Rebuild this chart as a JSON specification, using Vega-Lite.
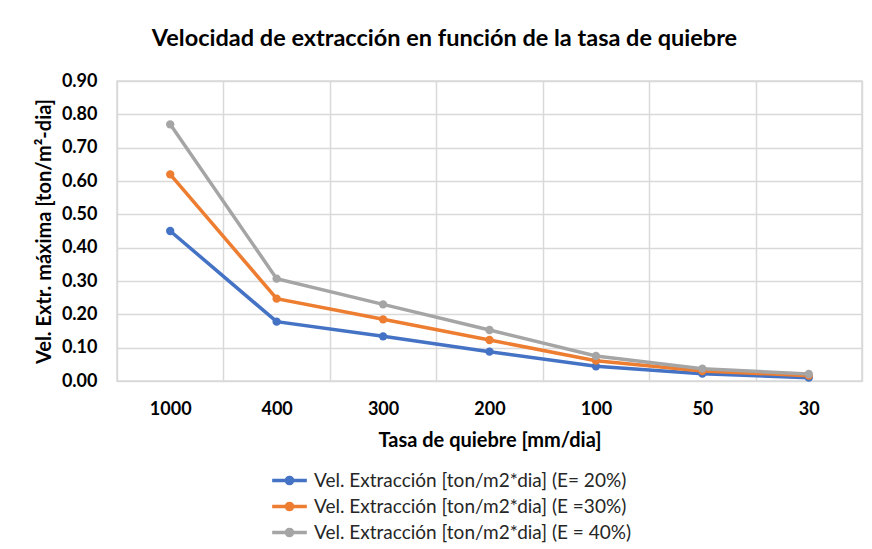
{
  "$schema": "https://vega.github.io/schema/vega-lite/v6.json",
  "width": 745,
  "height": 300,
  "autosize": "none",
  "padding": {"left": 117, "top": 81, "right": 10, "bottom": 168},
  "background": "white",
  "title": {
    "text": "Velocidad de extracción en función de la tasa de quiebre",
    "font": "Lato",
    "fontSize": 23.5,
    "fontWeight": "bold",
    "color": "#000000",
    "anchor": "middle",
    "dx": -45,
    "offset": 22
  },
  "data": {
    "values": [
      {"tasa": "1000", "serie": "Vel. Extracción [ton/m2*dia] (E= 20%)", "v": 0.45},
      {"tasa": "400", "serie": "Vel. Extracción [ton/m2*dia] (E= 20%)", "v": 0.178},
      {"tasa": "300", "serie": "Vel. Extracción [ton/m2*dia] (E= 20%)", "v": 0.134},
      {"tasa": "200", "serie": "Vel. Extracción [ton/m2*dia] (E= 20%)", "v": 0.088},
      {"tasa": "100", "serie": "Vel. Extracción [ton/m2*dia] (E= 20%)", "v": 0.044},
      {"tasa": "50", "serie": "Vel. Extracción [ton/m2*dia] (E= 20%)", "v": 0.022},
      {"tasa": "30", "serie": "Vel. Extracción [ton/m2*dia] (E= 20%)", "v": 0.01},
      {"tasa": "1000", "serie": "Vel. Extracción [ton/m2*dia] (E =30%)", "v": 0.62},
      {"tasa": "400", "serie": "Vel. Extracción [ton/m2*dia] (E =30%)", "v": 0.247},
      {"tasa": "300", "serie": "Vel. Extracción [ton/m2*dia] (E =30%)", "v": 0.185},
      {"tasa": "200", "serie": "Vel. Extracción [ton/m2*dia] (E =30%)", "v": 0.123},
      {"tasa": "100", "serie": "Vel. Extracción [ton/m2*dia] (E =30%)", "v": 0.061},
      {"tasa": "50", "serie": "Vel. Extracción [ton/m2*dia] (E =30%)", "v": 0.03},
      {"tasa": "30", "serie": "Vel. Extracción [ton/m2*dia] (E =30%)", "v": 0.016},
      {"tasa": "1000", "serie": "Vel. Extracción [ton/m2*dia] (E = 40%)", "v": 0.77},
      {"tasa": "400", "serie": "Vel. Extracción [ton/m2*dia] (E = 40%)", "v": 0.307},
      {"tasa": "300", "serie": "Vel. Extracción [ton/m2*dia] (E = 40%)", "v": 0.23},
      {"tasa": "200", "serie": "Vel. Extracción [ton/m2*dia] (E = 40%)", "v": 0.153},
      {"tasa": "100", "serie": "Vel. Extracción [ton/m2*dia] (E = 40%)", "v": 0.075},
      {"tasa": "50", "serie": "Vel. Extracción [ton/m2*dia] (E = 40%)", "v": 0.037},
      {"tasa": "30", "serie": "Vel. Extracción [ton/m2*dia] (E = 40%)", "v": 0.021}
    ]
  },
  "mark": {"type": "line", "strokeWidth": 3.5, "point": {"size": 70, "filled": true}},
  "encoding": {
    "x": {
      "field": "tasa",
      "type": "ordinal",
      "sort": ["1000", "400", "300", "200", "100", "50", "30"],
      "scale": {"type": "band", "paddingInner": 0, "paddingOuter": 0},
      "axis": {
        "title": "Tasa de quiebre [mm/dia]",
        "titleFont": "Lato",
        "titleFontSize": 20,
        "titleFontWeight": "bold",
        "titleColor": "#000000",
        "titlePadding": 12,
        "labelFont": "Lato",
        "labelFontSize": 18,
        "labelFontWeight": "bold",
        "labelColor": "#000000",
        "labelAngle": 0,
        "labelPadding": 19,
        "grid": true,
        "gridColor": "#d9d9d9",
        "gridWidth": 1.5,
        "tickBand": "extent",
        "ticks": false,
        "domain": false
      }
    },
    "y": {
      "field": "v",
      "type": "quantitative",
      "scale": {"domain": [0, 0.9], "nice": false},
      "axis": {
        "title": "Vel. Extr. máxima [ton/m²-dia]",
        "titleFont": "Lato",
        "titleFontSize": 20,
        "titleFontWeight": "bold",
        "titleColor": "#000000",
        "titlePadding": 7,
        "labelFont": "Lato",
        "labelFontSize": 18,
        "labelFontWeight": "bold",
        "labelColor": "#000000",
        "labelPadding": 20,
        "values": [0, 0.1, 0.2, 0.3, 0.4, 0.5, 0.6, 0.7, 0.8, 0.9],
        "format": ".2f",
        "grid": true,
        "gridColor": "#d9d9d9",
        "gridWidth": 1.5,
        "ticks": false,
        "domain": false
      }
    },
    "color": {
      "field": "serie",
      "type": "nominal",
      "sort": ["Vel. Extracción [ton/m2*dia] (E= 20%)", "Vel. Extracción [ton/m2*dia] (E =30%)", "Vel. Extracción [ton/m2*dia] (E = 40%)"],
      "scale": {"range": ["#4472C4", "#ED7D31", "#A5A5A5"]},
      "legend": {
        "title": null,
        "orient": "none",
        "legendX": 162,
        "legendY": 389,
        "labelFont": "Lato",
        "labelFontSize": 19,
        "labelColor": "#262626",
        "labelLimit": 0,
        "symbolType": "M-2,0L2,0M-0.35,0A0.35,0.35,0,1,1,0.35,0A0.35,0.35,0,1,1,-0.35,0Z",
        "symbolStrokeWidth": 3.5,
        "symbolSize": 300,
        "rowPadding": 5,
        "labelOffset": 14,
        "encode": {
          "symbols": {"update": {"fill": {"scale": "color", "field": "value"}}}
        }
      }
    }
  },
  "config": {
    "view": {"stroke": "#d9d9d9", "strokeWidth": 1.5}
  }
}
